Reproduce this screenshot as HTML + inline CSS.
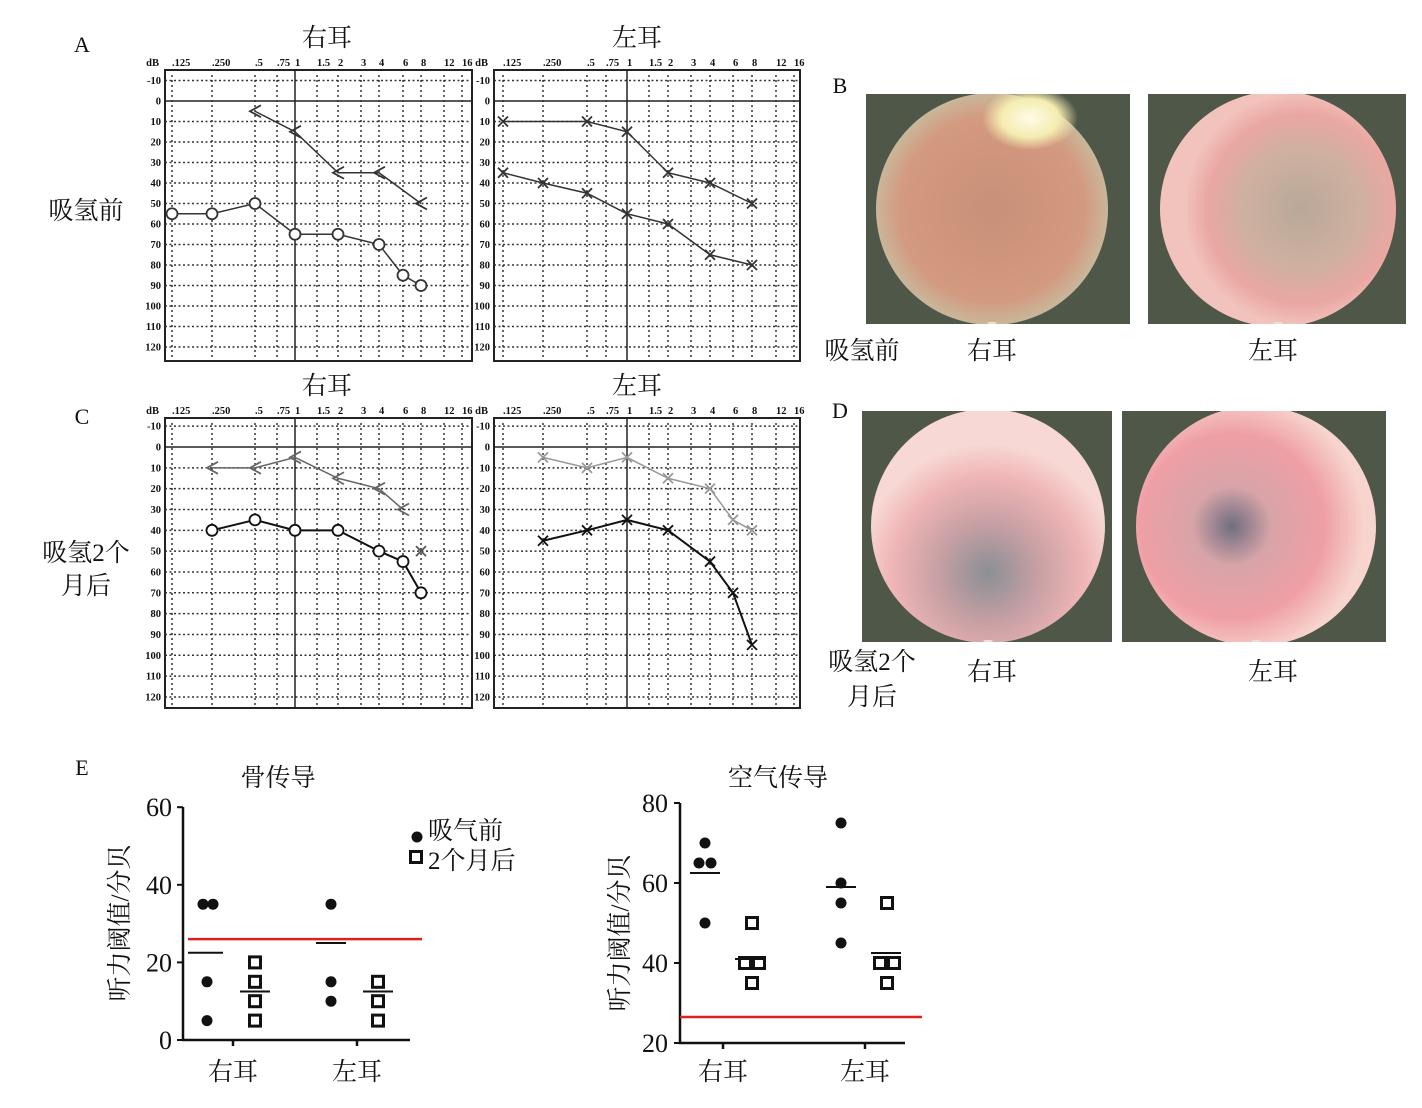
<!DOCTYPE html>
<html><head><meta charset="utf-8"><style>
body{margin:0;background:#fff}
svg{display:block}
text{font-family:"Liberation Serif","Noto Serif CJK SC","Noto Sans CJK SC",serif;fill:#111}
</style></head><body>
<svg id="s" width="1422" height="1108" viewBox="0 0 1422 1108" xmlns="http://www.w3.org/2000/svg">
<defs>
<radialGradient id="g1" cx="0.5" cy="0.5" r="0.5"><stop offset="0" stop-color="#c98f78"/><stop offset="0.8" stop-color="#d39a80"/><stop offset="1" stop-color="#c9b79a"/></radialGradient>
<radialGradient id="g1b" cx="0.5" cy="0.5" r="0.5"><stop offset="0" stop-color="#fffbe8"/><stop offset="0.6" stop-color="#f4ecb0"/><stop offset="1" stop-color="#f4ecb0" stop-opacity="0"/></radialGradient>
<radialGradient id="g2" cx="0.6" cy="0.5" r="0.5"><stop offset="0" stop-color="#b8a898"/><stop offset="0.5" stop-color="#cfb0a0"/><stop offset="0.8" stop-color="#eaa7a2"/><stop offset="1" stop-color="#f2c3bc"/></radialGradient>
<radialGradient id="g3" cx="0.5" cy="0.7" r="0.55"><stop offset="0" stop-color="#8a8f95"/><stop offset="0.4" stop-color="#c8a0a4"/><stop offset="0.75" stop-color="#efb5b6"/><stop offset="1" stop-color="#f7d8d4"/></radialGradient>
<radialGradient id="g4" cx="0.4" cy="0.5" r="0.55"><stop offset="0" stop-color="#6f6d80"/><stop offset="0.3" stop-color="#d7a4a8"/><stop offset="0.7" stop-color="#ef9fa6"/><stop offset="1" stop-color="#f7d4cd"/></radialGradient>
<clipPath id="c1"><rect x="866" y="94" width="264" height="230"/></clipPath>
<clipPath id="c2"><rect x="1148" y="94" width="258" height="230"/></clipPath>
<clipPath id="c3"><rect x="862" y="411" width="250" height="231"/></clipPath>
<clipPath id="c4"><rect x="1122" y="411" width="264" height="231"/></clipPath>
</defs>
<g id="root"></g>
</svg>
<script>
var R=document.getElementById('root'),h='';
function t(x,y,s,sz,anc,extra){h+='<text x="'+x+'" y="'+y+'" font-size="'+sz+'" text-anchor="'+(anc||'middle')+'" '+(extra||'')+'>'+s+'</text>';}
var fl=['.125','.250','.5','.75','1','1.5','2','3','4','6','8','12','16'];
var fxR=[172,212,255,277,295,317,338,361,379,403,421,444,462];
var fxL=[503,543,587,606,627,649,668,691,710,733,752,776,794];
function aud(bx0,bx1,fx,y0,sc,top,bot){
 var s='';
 s+='<rect x="'+bx0+'" y="'+top+'" width="'+(bx1-bx0)+'" height="'+(bot-top)+'" fill="none" stroke="#222" stroke-width="2"/>';
 for(var d=-10;d<=120;d+=10){var y=y0+d*sc;
  if(d==0)s+='<line x1="'+bx0+'" x2="'+bx1+'" y1="'+y+'" y2="'+y+'" stroke="#222" stroke-width="1.5"/>';
  else s+='<line x1="'+bx0+'" x2="'+bx1+'" y1="'+y+'" y2="'+y+'" stroke="#333" stroke-width="1.5" stroke-dasharray="2,2.5"/>';
  s+='<text x="'+(bx0-4)+'" y="'+(y+3.5)+'" font-size="10.5" font-weight="bold" text-anchor="end">'+d+'</text>';}
 for(var i=0;i<fx.length;i++){
  if(i==4)s+='<line x1="'+fx[i]+'" x2="'+fx[i]+'" y1="'+top+'" y2="'+bot+'" stroke="#222" stroke-width="1.5"/>';
  else s+='<line x1="'+fx[i]+'" x2="'+fx[i]+'" y1="'+(top+5)+'" y2="'+(bot-3)+'" stroke="#333" stroke-width="1.5" stroke-dasharray="2,3"/>';
  s+='<text x="'+fx[i]+'" y="'+(top-4)+'" font-size="10.5" font-weight="bold">'+fl[i]+'</text>';}
 s+='<text x="'+(bx0-6)+'" y="'+(top-4)+'" font-size="10.5" font-weight="bold" text-anchor="end">dB</text>';
 h+=s;
}
function series(fx,y0,sc,pts,mk,col,w){
 var p=pts.map(function(a){return [fx[a[0]],y0+a[1]*sc]});
 h+='<polyline fill="none" stroke="'+col+'" stroke-width="'+w+'" points="'+p.map(function(q){return q.join(',')}).join(' ')+'"/>';
 p.forEach(function(q){var x=q[0],y=q[1];
  if(mk=='o')h+='<circle cx="'+x+'" cy="'+y+'" r="5.5" fill="#fff" stroke="'+col+'" stroke-width="1.8"/>';
  else if(mk=='x')h+='<path d="M'+(x-5)+','+(y-5)+'L'+(x+5)+','+(y+5)+'M'+(x+5)+','+(y-5)+'L'+(x-5)+','+(y+5)+'" stroke="'+col+'" stroke-width="1.8"/>';
  else h+='<path d="M'+(x+6)+','+(y-6)+'L'+(x-5)+','+y+'L'+(x+6)+','+(y+6)+'" fill="none" stroke="'+col+'" stroke-width="1.8"/>';
 });
}
aud(165,472,fxR,101,2.05,70,361);aud(494,800,fxL,101,2.05,70,361);
series(fxR,101,2.05,[[2,5],[4,15],[6,35],[8,35],[10,50]],'<','#333',1.5);
series(fxR,101,2.05,[[0,55],[1,55],[2,50],[4,65],[6,65],[8,70],[9,85],[10,90]],'o','#333',1.5);
series(fxL,101,2.05,[[0,10],[2,10],[4,15],[6,35],[8,40],[10,50]],'x','#333',1.5);
series(fxL,101,2.05,[[0,35],[1,40],[2,45],[4,55],[6,60],[8,75],[10,80]],'x','#333',1.5);
aud(165,472,fxR,447,2.083,418,708);aud(494,800,fxL,447,2.083,418,708);
series(fxR,447,2.083,[[1,10],[2,10],[4,5],[6,15],[8,20],[9,30]],'<','#666',1.5);
series(fxR,447,2.083,[[10,50]],'x','#555',1.5);
series(fxR,447,2.083,[[1,40],[2,35],[4,40],[6,40],[8,50],[9,55],[10,70]],'o','#111',2);
series(fxL,447,2.083,[[1,5],[2,10],[4,5],[6,15],[8,20],[9,35],[10,40]],'x','#999',1.5);
series(fxL,447,2.083,[[1,45],[2,40],[4,35],[6,40],[8,55],[9,70],[10,95]],'x','#111',2);
t(82,52,'A',22);t(82,424,'C',22);t(840,93,'B',22);t(840,418,'D',22);t(82,775,'E',22);
t(327,46,'右耳',25);t(637,46,'左耳',25);t(327,394,'右耳',25);t(637,394,'左耳',25);
t(86,219,'吸氢前',25);t(86,561,'吸氢2个',25);t(86,594,'月后',25);
function photo(x0,y0,w,hh,cx,cy,r,g,clip,extra){
 h+='<rect x="'+x0+'" y="'+y0+'" width="'+w+'" height="'+hh+'" fill="#4f5748"/>';
 h+='<g clip-path="url(#'+clip+')"><circle cx="'+cx+'" cy="'+cy+'" r="'+r+'" fill="url(#'+g+')"/>'+(extra||'');
 h+='<path d="M'+(cx-5)+','+(y0+hh-2)+'L'+cx+','+(y0+hh+4)+'L'+(cx+5)+','+(y0+hh-2)+'Z" fill="#e8e0d0"/></g>';
}
photo(866,94,264,230,992,209,116,'g1','c1','<ellipse cx="1030" cy="118" rx="48" ry="32" fill="url(#g1b)"/>');
photo(1148,94,258,230,1278,209,118,'g2','c2');
photo(862,411,250,231,988,526,117,'g3','c3');
photo(1122,411,264,231,1256,526,120,'g4','c4');
t(862,359,'吸氢前',25);t(992,359,'右耳',25);t(1273,359,'左耳',25);
t(872,670,'吸氢2个',25);t(872,705,'月后',25);t(992,680,'右耳',25);t(1273,680,'左耳',25);
function dot(x,y){h+='<circle cx="'+x+'" cy="'+y+'" r="5.5" fill="#111"/>';}
function sq(x,y){h+='<rect x="'+(x-5.5)+'" y="'+(y-5.5)+'" width="11" height="11" fill="#fff" stroke="#111" stroke-width="3"/>';}
function ln(x1,x2,y,c,w){h+='<line x1="'+x1+'" x2="'+x2+'" y1="'+y+'" y2="'+y+'" stroke="'+(c||'#111')+'" stroke-width="'+(w||2)+'"/>';}
t(278,786,'骨传导',25);
h+='<path d="M183,807V1040H410M233,1040v6M357,1040v6" fill="none" stroke="#111" stroke-width="2.5"/>';
[0,20,40,60].forEach(function(v){var y=1040-v*3.88;ln(177,183,y);t(172,y+9,v,26,'end');});
function by(v){return 1040-v*3.88}
ln(188,422,by(26),'#e02020',2.5);
dot(203,by(35));dot(213,by(35));dot(207,by(15));dot(207,by(5));ln(188,223,by(22.5));
[20,15,10,5].forEach(function(v){sq(255,by(v))});ln(240,270,by(12.5));
dot(331,by(35));dot(331,by(15));dot(331,by(10));ln(316,346,by(25));
[15,10,5].forEach(function(v){sq(378,by(v))});ln(363,393,by(12.5));
dot(417,837);sq(416,857);t(428,839,'吸气前',25,'start');t(428,869,'2个月后',25,'start');
t(233,1080,'右耳',25);t(357,1080,'左耳',25);
t(120,923,'听力阈值/分贝',25,'middle','transform="rotate(-90 120 923)" dy="8"');
t(778,786,'空气传导',25);
h+='<path d="M680,803V1043H905M723,1043v6M865,1043v6" fill="none" stroke="#111" stroke-width="2.5"/>';
function ay(v){return 1043-(v-20)*4}
[20,40,60,80].forEach(function(v){var y=ay(v);ln(674,680,y);t(668,y+9,v,26,'end');});
ln(680,922,ay(26.5),'#e02020',2.5);
dot(705,ay(70));dot(699,ay(65));dot(711,ay(65));dot(705,ay(50));ln(690,720,ay(62.5));
sq(752,ay(50));sq(745,ay(40));sq(759,ay(40));sq(752,ay(35));ln(735,765,ay(41));
dot(841,ay(75));dot(841,ay(60));dot(841,ay(55));dot(841,ay(45));ln(826,856,ay(59));
sq(887,ay(55));sq(880,ay(40));sq(894,ay(40));sq(887,ay(35));ln(871,901,ay(42.5));
t(723,1080,'右耳',25);t(865,1080,'左耳',25);
t(620,933,'听力阈值/分贝',25,'middle','transform="rotate(-90 620 933)" dy="8"');
R.innerHTML=h;
</script>
</body></html>
